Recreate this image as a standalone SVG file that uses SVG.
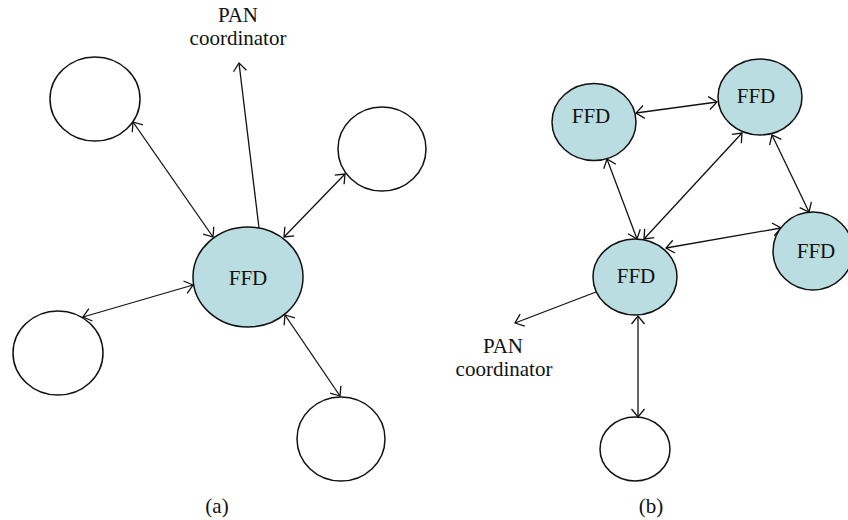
<svg xmlns="http://www.w3.org/2000/svg" width="848" height="520" viewBox="0 0 848 520">
<defs>
<marker id="ah" viewBox="-10 -8 12 16" refX="0" refY="0" markerWidth="12" markerHeight="16" markerUnits="userSpaceOnUse" orient="auto-start-reverse">
<path d="M -8,-6.5 L 0,0 L -8,6.5" fill="none" stroke="#111" stroke-width="1.3"/>
</marker>
<style>
.n{fill:#fff;stroke:#111;stroke-width:1.5}
.f{fill:#b9dde0;stroke:#111;stroke-width:1.5}
.t{font-family:"Liberation Serif",serif;font-size:21px;fill:#111;text-anchor:middle}
.e{stroke:#111;stroke-width:1.3;fill:none}
.b{marker-start:url(#ah);marker-end:url(#ah)}
.s{marker-end:url(#ah)}
</style>
</defs>
<rect width="848" height="520" fill="#fff"/>
<g id="connectors">
<line class="e b" x1="133" y1="122" x2="213" y2="237"/>
<line class="e s" x1="259" y1="228" x2="239" y2="63"/>
<line class="e b" x1="345" y1="174" x2="284" y2="237"/>
<line class="e b" x1="83" y1="317" x2="193" y2="285"/>
<line class="e b" x1="285" y1="315" x2="340" y2="396"/>
<line class="e b" x1="636" y1="113" x2="717" y2="102"/>
<line class="e b" x1="607" y1="159" x2="637" y2="239"/>
<line class="e b" x1="742" y1="133" x2="644" y2="239"/>
<line class="e b" x1="772" y1="135" x2="809" y2="212"/>
<line class="e b" x1="666" y1="248" x2="781" y2="228"/>
<line class="e s" x1="596" y1="292" x2="515" y2="323"/>
<line class="e b" x1="638" y1="316" x2="638" y2="417"/>
</g>
<g id="a-pan-label">
<text class="t" x="238" y="22">PAN</text>
<text class="t" x="238" y="45">coordinator</text>
</g>
<g id="a-n1"><ellipse class="n" cx="95" cy="99" rx="45" ry="42"/></g>
<g id="a-n2"><ellipse class="n" cx="382" cy="149" rx="44" ry="42"/></g>
<g id="a-ffd"><ellipse class="f" cx="248" cy="277" rx="55" ry="50"/><text class="t" x="248" y="285">FFD</text></g>
<g id="a-n3"><ellipse class="n" cx="58" cy="353" rx="45" ry="42"/></g>
<g id="a-n4"><ellipse class="n" cx="341" cy="439" rx="44" ry="42"/></g>
<g id="a-label"><text class="t" x="217" y="513">(a)</text></g>
<g id="b-ffd1"><ellipse class="f" cx="594" cy="122" rx="42" ry="38.5"/><text class="t" x="591" y="123">FFD</text></g>
<g id="b-ffd2"><ellipse class="f" cx="760" cy="97" rx="42" ry="38"/><text class="t" x="756" y="103">FFD</text></g>
<g id="b-ffd3"><ellipse class="f" cx="813" cy="251" rx="40" ry="39"/><text class="t" x="816" y="258">FFD</text></g>
<g id="b-ffd4"><ellipse class="f" cx="635" cy="277" rx="42" ry="38"/><text class="t" x="636" y="283">FFD</text></g>
<g id="b-n1"><ellipse class="n" cx="635" cy="449" rx="35" ry="32"/></g>
<g id="b-pan-label">
<text class="t" x="503" y="353">PAN</text>
<text class="t" x="504" y="376">coordinator</text>
</g>
<g id="b-label"><text class="t" x="651" y="513">(b)</text></g>
</svg>
